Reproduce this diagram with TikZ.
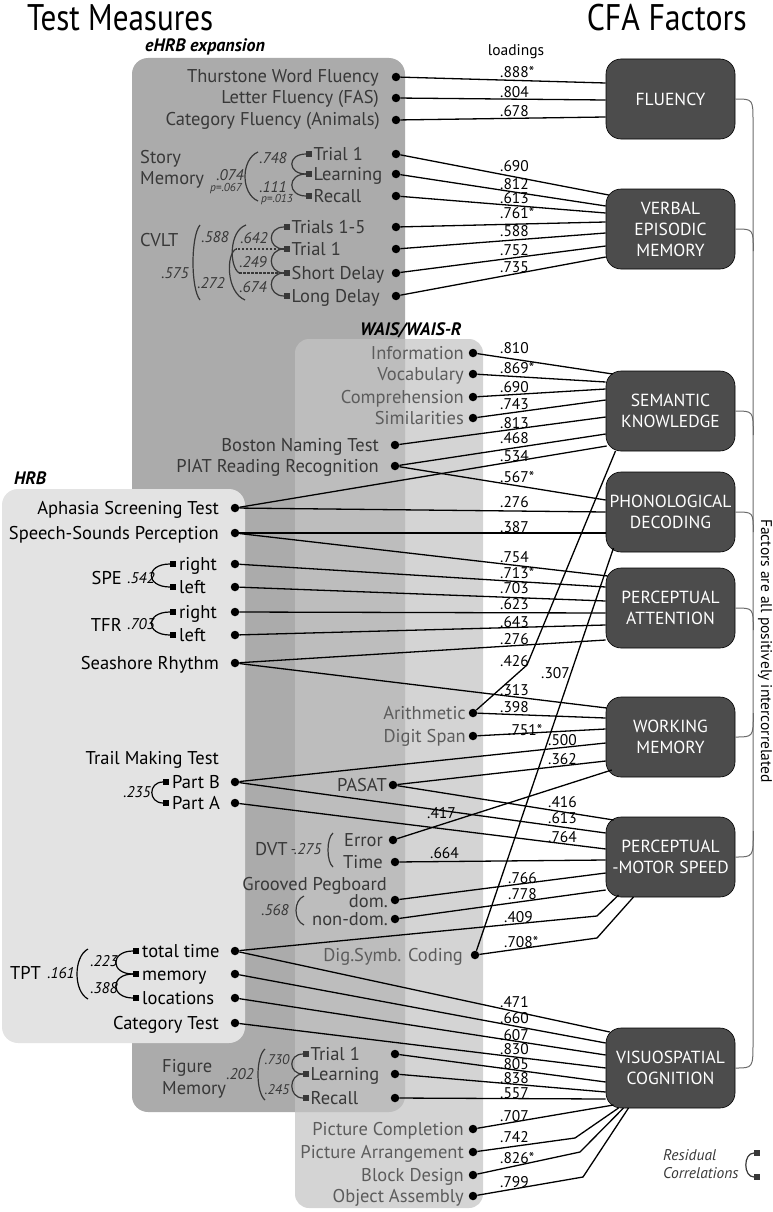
\documentclass[tikz,border=0pt]{standalone}
\usepackage{fontspec}
\setmainfont{PT Sans}
\usetikzlibrary{calc}

\definecolor{ehrbfill}{gray}{0.67}
\definecolor{waisfill}{gray}{0.77}
\definecolor{hrbfill}{gray}{0.89}
\definecolor{facfill}{gray}{0.30}
\definecolor{ehrbtext}{gray}{0.22}
\definecolor{waistext}{gray}{0.36}
\definecolor{bandline}{gray}{0.42}

\newcommand{\fmeas}{\fontsize{18.5}{20}\selectfont}
\newcommand{\fload}{\fontsize{15.5}{15.5}\selectfont}
\newcommand{\fcorr}{\fontsize{15.5}{15.5}\selectfont\itshape}
\newcommand{\fpval}{\fontsize{11.5}{11.5}\selectfont\itshape}

% residual correlation between two boxed sub-measures
\newcommand{\rescor}[4][black]{\draw[rc,#1] (#2.west) .. controls +(-#4,0) and +(-#4,0) .. (#3.west);}
% open bracket between sub-measures further apart
\newcommand{\corrarc}[5][black]{\draw[rc,#1] (#2,#3) .. controls ({(#5-0.25*#2)/0.75},{#3+0.15*(#4-#3)}) and ({(#5-0.25*#2)/0.75},{#4-0.15*(#4-#3)}) .. (#2,#4);}

\tikzset{
  dot/.style={circle, fill=black, inner sep=0pt, minimum size=8.5pt},
  sq/.style={rectangle, inner sep=0pt, minimum size=5.5pt},
  meas/.style={inner sep=0pt, text height=12pt, text depth=0pt, font=\fmeas},
  load/.style={anchor=west, inner sep=0pt, font=\fload},
  corrlab/.style={inner sep=0pt, font=\fcorr},
  grp/.style={anchor=west, inner sep=0pt, font=\fontsize{18}{20}\selectfont\bfseries\itshape},
  factor/.style={draw=black, fill=facfill, rounded corners=15pt, minimum width=129pt,
    minimum height=80pt, inner sep=2pt, align=center, text=white,
    font=\fontsize{17.5}{21}\selectfont, line width=0.6pt},
  link/.style={line width=1.3pt},
  rc/.style={line width=1.2pt},
}

\begin{document}
\begin{tikzpicture}[x=1pt,y=-1pt]
\useasboundingbox (0,0) rectangle (772,1212);

% panels
\fill[ehrbfill, rounded corners=16pt] (132,58) rectangle (405,1112);
\fill[waisfill, opacity=.73, rounded corners=14pt] (295,339) rectangle (483,1208);
\fill[hrbfill, rounded corners=16pt] (2,489) rectangle (245,1043);

% headings
\node[anchor=base west, inner sep=0pt, font=\fontsize{37}{37}\selectfont] (hdtm) at (27,31) {\scalebox{.84}[1]{Test Measures}};
\node[anchor=base east, inner sep=0pt, font=\fontsize{37}{37}\selectfont] (hdcfa) at (747,31) {\scalebox{.86}[1]{CFA Factors}};
\node[grp] (gehrb) at (145,47) {eHRB expansion};
\node[grp] (gwais) at (360,330) {WAIS/WAIS-R};
\node[grp] (ghrb) at (14,478) {HRB};
\node[inner sep=0pt, font=\fload] (lds) at (516,52) {loadings};

% factors
\node[factor] (fl) at (670.5,99) {FLUENCY};
\node[factor] (vem) at (670.5,229) {VERBAL\\EPISODIC\\MEMORY};
\node[factor] (sem) at (670.5,411) {SEMANTIC\\KNOWLEDGE};
\node[factor] (pho) at (670.5,512) {PHONOLOGICAL\\DECODING};
\node[factor] (pa) at (670.5,608) {PERCEPTUAL\\ATTENTION};
\node[factor] (wm) at (670.5,737) {WORKING\\MEMORY};
\node[factor] (pms) at (670.5,857) {PERCEPTUAL\\-MOTOR SPEED};
\node[factor] (vc) at (670.5,1068) {VISUOSPATIAL\\COGNITION};

% factor intercorrelation band
\draw[bandline, line width=1pt] (fl.east) .. controls (753,99) .. (753,122) -- (753,1042) .. controls (753,1068) .. (vc.east);
\foreach \f/\dy in {vem/22, sem/24, pho/20, pa/22, wm/-24, pms/-26}
  \draw[bandline, line width=1pt] (\f.east) .. controls ($(\f.east)+(18,0)$) .. ($(\f.east)+(18,\dy)$);
\node[rotate=-90, inner sep=0pt, font=\fontsize{15.5}{15.5}\selectfont] (fai) at (765,651) {Factors are all positively intercorrelated};

% dots
\foreach \n/\x/\y in {TW/396/77, LF/396/98, CF/396/120, SM1/396/154, SM2/396/174, SM3/396/196,
    CV1/396/227, CV2/396/249, CV3/396/273, CV4/396/296, BN/395/445, PI/395/466,
    PS/393/785, DE/393/840, DT/395/862, GD/395/900, GN/395/919,
    FM1/395/1054, FM2/395/1074, FM3/395/1098,
    IN/473/353, VO/473/374, CO/473/397, SI/473/418, AR/473/713, DS/473/736, DC/475/955,
    PC/473/1129, PA/473/1152, BD/473/1175, OA/473/1196,
    AS/235/508, SS/235/533, SPr/235/564, SPl/235/587, TFr/235/612, TFl/235/635, SR/235/663,
    TB/235/782, TA/235/803, TT/235/951, TM/235/974, TL/235/998, CT/235/1023}
  \node[dot] (d\n) at (\x,\y) {};

% measure names
\foreach \n/\x/\y/\t in {TW/379/77/{Thurstone Word Fluency}, LF/379/98/{Letter Fluency (FAS)},
    CF/380/120/{Category Fluency (Animals)}, BN/379/445/{Boston Naming Test},
    PI/379/466/{PIAT Reading Recognition}, PS/387/785/PASAT, DE/383/840/Error, DT/383/862/Time,
    GP/387/884/{Grooved Pegboard}, GD/388/901/dom., GN/388/919/non-dom.}
  \node[meas, anchor=east, text=ehrbtext] (t\n) at (\x,\y) {\t};
\foreach \n/\x/\y/\t in {IN/464/353/Information, VO/464/374/Vocabulary, CO/464/397/Comprehension,
    SI/464/418/Similarities, AR/466/713/Arithmetic, DS/466/736/{Digit Span},
    DC/463/955/{Dig.Symb. Coding}, PC/464/1129/{Picture Completion},
    PA/464/1152/{Picture Arrangement}, BD/464/1175/{Block Design}, OA/464/1196/{Object Assembly}}
  \node[meas, anchor=east, text=waistext] (t\n) at (\x,\y) {\t};
\foreach \n/\x/\y/\t in {AS/219/508/{Aphasia Screening Test}, SS/219/533/{Speech-Sounds Perception},
    SR/219/663/{Seashore Rhythm}, TMT/219/758/{Trail Making Test}, CT/219/1023/{Category Test},
    SPE/122/578/SPE, TFR/122/625/TFR}
  \node[meas, anchor=east] (t\n) at (\x,\y) {\t};
\foreach \n/\x/\y/\t in {SMa/140/157/Story, SMb/140/178/Memory, CVLT/140/240/CVLT, DVT/255/849/DVT,
    FMa/162/1066/Figure, FMb/162/1088/Memory}
  \node[meas, anchor=west, text=ehrbtext] (t\n) at (\x,\y) {\t};
\node[meas, anchor=west] (tTPT) at (10,973) {TPT};

% boxed sub-measures
\foreach \n/\x/\y/\t in {SM1/309/154/Trial 1, SM2/309/174/Learning, SM3/309/196/Recall,
    CV1/287/227/Trials 1-5, CV2/287/249/Trial 1, CV3/287/273/Short Delay, CV4/287/296/Long Delay,
    FM1/306/1054/Trial 1, FM2/306/1074/Learning, FM3/306/1098/Recall}{
  \node[sq, fill=ehrbtext] (s\n) at (\x,\y) {};
  \node[meas, anchor=west, text=ehrbtext] (t\n) at (\x+4.5,\y) {\t};
}
\foreach \n/\x/\y/\t in {SPr/173/564/right, SPl/173/587/left, TFr/173/612/right, TFl/173/635/left,
    TB/166/782/Part B, TA/166/803/Part A, TT/136/951/total time, TM/136/974/memory, TL/136/998/locations}{
  \node[sq, fill=black] (s\n) at (\x,\y) {};
  \node[meas, anchor=west] (t\n) at (\x+6,\y) {\t};
}

% residual correlations
\rescor[ehrbtext]{sSM1}{sSM2}{19}
\rescor[ehrbtext]{sSM2}{sSM3}{19}
\corrarc[ehrbtext]{258}{152}{201}{245}
\rescor[ehrbtext]{sCV1}{sCV2}{17}
\rescor[ehrbtext]{sCV2}{sCV3}{17}
\rescor[ehrbtext]{sCV3}{sCV4}{17}
\corrarc[ehrbtext]{200}{225}{300}{193}
\draw[rc, ehrbtext] (246,225) .. controls (229,231) and (229,266) .. (239,273);
\draw[rc, ehrbtext, dash pattern=on 2.5pt off 1.5pt] (239,273) -- (sCV3.west);
\draw[rc, ehrbtext, dash pattern=on 2.5pt off 1.5pt] (sCV2.west) -- (236,249);
\draw[rc, ehrbtext] (236,249) .. controls (226,254) and (226,292) .. (245,300);
\rescor{sSPr}{sSPl}{25}
\rescor{sTFr}{sTFl}{25}
\rescor{sTB}{sTA}{15}
\rescor{sTT}{sTM}{23}
\rescor{sTM}{sTL}{23}
\corrarc{88}{949}{999}{77}
\corrarc[ehrbtext]{333}{833}{867}{328}
\corrarc[ehrbtext]{304}{896}{925}{296}
\rescor[ehrbtext]{sFM1}{sFM2}{15}
\rescor[ehrbtext]{sFM2}{sFM3}{15}
\corrarc[ehrbtext]{265}{1049}{1100}{258}

\foreach \n/\x/\y/\t in {a/273/158/.748, b/273/187/.111, c/230/175/.074, d/215/237/.588,
    e/254/238/.642, f/253/262/.249, g/253/287/.674, h/211/283/.272, i/175/273/.575,
    j/306/849/-.275, k/275/910/.568, l/240/1074/.202}
  \node[corrlab, text=ehrbtext] (c\n) at (\x,\y) {\t};
\foreach \n/\y/\t in {m/1060/.730, n/1090/.245}
  \node[corrlab, text=ehrbtext, font=\fontsize{14}{14}\selectfont\itshape] (c\n) at (277,\y) {\t};
\foreach \n/\x/\y/\t in {a/141/578/.542, b/141/624/.703, c/137/792/.235, d/61/973/.161,
    e/104/961/.223, f/104/988/.388}
  \node[corrlab] (ch\n) at (\x,\y) {\t};
\node[inner sep=0pt, font=\fpval, text=ehrbtext] (pa1) at (277,200) {p=.013};
\node[inner sep=0pt, font=\fpval, text=ehrbtext] (pa2) at (226,189) {p=.067};

% loadings
\foreach \m/\dx/\dy/\lx/\ly/\lab [count=\i] in {TW/0/-16/500/72/.888*, LF/0/1/500/92/.804,
    CF/0/18/500/111/.678}{
  \draw[link] (d\m) -- ($(fl.west)+(\dx,\dy)$);
  \node[load] (lfl\i) at (\lx,\ly) {\lab};
}
\foreach \m/\dx/\dy/\lx/\ly/\lab [count=\i] in {SM1/3/-34/500/166/.690, SM2/0/-23/500/184/.812,
    SM3/0/-16/500/198/.613, CV1/0/-7/500/213/.761*, CV2/0/4/500/231/.588, CV3/0/17/500/250/.752,
    CV4/0/28/500/267/.735}{
  \draw[link] (d\m) -- ($(vem.west)+(\dx,\dy)$);
  \node[load] (lvem\i) at (\lx,\ly) {\lab};
}
\foreach \m/\dx/\dy/\lx/\ly/\lab [count=\i] in {IN/7/-37/500/348/.810, VO/0/-29/500/368/.869*,
    CO/0/-22/500/387/.690, SI/0/-11/500/404/.743, BN/0/6/500/423/.813, PI/0/23/500/438/.468,
    AS/1/35/500/456/.534}{
  \draw[link] (d\m) -- ($(sem.west)+(\dx,\dy)$);
  \node[load] (lsem\i) at (\lx,\ly) {\lab};
}
\draw[link] (dAR) -- (527,665) -- ($(sem.center)+(-55,40)$);
\node[load] (lsem8) at (500,661) {.426};
\foreach \m/\dx/\dy/\lx/\ly/\lab [count=\i] in {PI/0/-12/500/477/.567*, AS/0/0/500/502/.276,
    SS/0/21/500/527/.387}{
  \draw[link] (d\m) -- ($(pho.west)+(\dx,\dy)$);
  \node[load] (lpho\i) at (\lx,\ly) {\lab};
}
\draw[link] (dDC) -- ($(pho.center)+(-57,36)$);
\node[load] (lpho4) at (541,673) {.307};
\foreach \m/\dx/\dy/\lx/\ly/\lab [count=\i] in {SS/2/-32/500/557/.754, SPr/0/-21/500/573/.713*,
    SPl/0/-7/500/588/.703, TFr/0/5/500/604/.623, TFl/0/17/500/622/.643, SR/0/32/500/639/.276}{
  \draw[link] (d\m) -- ($(pa.west)+(\dx,\dy)$);
  \node[load] (lpa\i) at (\lx,\ly) {\lab};
}
\foreach \m/\dx/\dy/\lx/\ly/\lab [count=\i] in {SR/1/-29/500/690/.313, AR/0/-19/500/707/.398,
    DS/0/-8/508/730/.751*, TB/0/6/548/740/.500, PS/0/24/548/759/.362, DE/6/33/427/813/.417}{
  \draw[link] (d\m) -- ($(wm.west)+(\dx,\dy)$);
  \node[load] (lwm\i) at (\lx,\ly) {\lab};
}
\foreach \m/\dx/\dy/\lx/\ly/\lab [count=\i] in {PS/8/-37/548/802/.416, TB/0/-24/548/818/.613,
    TA/0/-8/548/837/.764, DT/0/3/430/853/.664, GD/0/16/508/878/.766, GN/0/33/508/894/.778}{
  \draw[link] (d\m) -- ($(pms.west)+(\dx,\dy)$);
  \node[load] (lpms\i) at (\lx,\ly) {\lab};
}
\draw[link] (dTT) -- (597,916) -- ($(pms.center)+(-52,38)$);
\draw[link] (dDC) -- (597,938) -- ($(pms.center)+(-37,40)$);
\node[load] (lpms7) at (504,917) {.409};
\node[load] (lpms8) at (504,942) {.708*};
\foreach \m/\dx/\dy/\lx/\ly/\lab [count=\i] in {TT/4/-36/500/1002/.471, TM/0/-25/500/1018/.660,
    TL/0/-13/500/1035/.607, CT/0/0/500/1049/.830, FM1/0/14/500/1064/.805, FM2/0/24/500/1078/.838,
    FM3/0/31/500/1093/.557}{
  \draw[link] (d\m) -- ($(vc.west)+(\dx,\dy)$);
  \node[load] (lvc\i) at (\lx,\ly) {\lab};
}
\draw[link] (dPC) -- ($(vc.center)+(-57,37)$);
\draw[link] (dPA) -- (575,1138) -- ($(vc.center)+(-52,40)$);
\draw[link] (dBD) -- (580,1152) -- ($(vc.center)+(-47,40)$);
\draw[link] (dOA) -- (583,1177) -- ($(vc.center)+(-42,40)$);
\foreach \lab/\ly [count=\i from 8] in {.707/1116, .742/1137, .826*/1158, .799/1182}
  \node[load] (lvc\i) at (500,\ly) {\lab};

% legend
\node[anchor=west, align=left, inner sep=0pt, text=ehrbtext, font=\fontsize{15.5}{18}\selectfont\itshape] (lgd) at (663,1164) {Residual\\Correlations};
\node[sq, fill=ehrbtext] (sLg1) at (757,1153) {};
\node[sq, fill=ehrbtext] (sLg2) at (757,1177) {};
\rescor[ehrbtext]{sLg1}{sLg2}{11}
\end{tikzpicture}
\end{document}
